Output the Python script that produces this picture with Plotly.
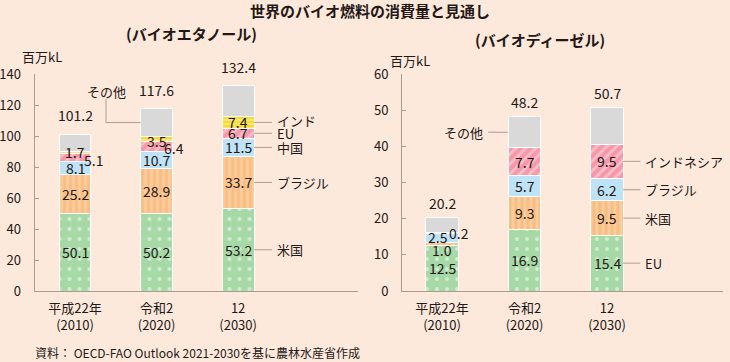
import plotly.graph_objects as go

# ---------------- data ----------------
years = ["平成22年<br>(2010)", "令和2<br>(2020)", "12<br>(2030)"]

eth_names = ["米国", "ブラジル", "中国", "EU", "インド", "その他"]
eth_us = [50.1, 50.2, 53.2]
eth_br = [25.2, 28.9, 33.7]
eth_cn = [8.1, 10.7, 11.5]
eth_eu = [5.1, 6.4, 6.7]
eth_in = [1.7, 3.5, 7.4]
eth_other = [11.0, 17.9, 19.9]
eth_total = [101.2, 117.6, 132.4]

dsl_names = ["EU", "米国", "ブラジル", "インドネシア", "その他"]
dsl_eu = [12.5, 16.9, 15.4]
dsl_us = [1.0, 9.3, 9.5]
dsl_br = [2.5, 5.7, 6.2]
dsl_id = [0.2, 7.7, 9.5]
dsl_other = [4.0, 8.6, 10.1]
dsl_total = [20.2, 48.2, 50.7]

# ---------------- styles ----------------
BG = "#fde9dc"
TXT = "#231815"
AX = "#a99d93"
FONT = "Noto Sans CJK JP"

GREEN = dict(color="#a6d9a6", pattern=dict(shape=".", fgcolor="white", size=10, solidity=0.12, fillmode="overlay"))
ORANGE = dict(color="#f8bd82", pattern=dict(shape="|", fgcolor="#fddcb8", size=6, solidity=0.5, fillmode="overlay"))
BLUE = dict(color="#bfe3f6")
PINK = dict(color="#f598aa", pattern=dict(shape="/", fgcolor="#fde3e8", size=7, solidity=0.4, fillmode="overlay"))
YELLOW = dict(color="#f5db3a", pattern=dict(shape="-", fgcolor="#fdf4b0", size=4, solidity=0.5, fillmode="overlay"))
GRAY = dict(color="#d9d9d9")

BW = 0.39
xs = [0, 1, 2]

eth_series = [eth_us, eth_br, eth_cn, eth_eu, eth_in, eth_other]
eth_styles = [GREEN, ORANGE, BLUE, PINK, YELLOW, GRAY]
dsl_series = [dsl_eu, dsl_us, dsl_br, dsl_id, dsl_other]
dsl_styles = [GREEN, ORANGE, BLUE, PINK, GRAY]

fig = go.Figure()

def add_stack(series, names, styles, xa, ya):
    for vals, nm, st in zip(series, names, styles):
        m = dict(st)
        m["line"] = dict(color="white", width=1)
        fig.add_trace(go.Bar(x=xs, y=vals, name=nm, marker=m, width=BW,
                             xaxis=xa, yaxis=ya, showlegend=False, hoverinfo="skip"))

add_stack(eth_series, eth_names, eth_styles, "x", "y")
add_stack(dsl_series, dsl_names, dsl_styles, "x2", "y2")

ann = []
shapes = []

def seg_mids(series):
    mids = []
    cum = [0, 0, 0]
    for vals in series:
        row = []
        for i, v in enumerate(vals):
            row.append(cum[i] + v / 2)
            cum[i] += v
        mids.append(row)
    return mids

# value labels inside bars (skip "other")
eth_off = {(3, 0): (18, -2), (4, 0): (0, 1), (3, 1): (17, -1), (4, 1): (0, -2)}
dsl_off = {(1, 0): (0, -6), (2, 0): (-4, 1), (3, 0): (17, 0)}

def value_labels(series, xa, ya, offs):
    mids = seg_mids(series)
    for s in range(len(series) - 1):
        for i in xs:
            dx, dy = offs.get((s, i), (0, 0))
            ann.append(dict(x=i, y=mids[s][i], xref=xa, yref=ya, text=f"{series[s][i]:.1f}",
                            showarrow=False, xshift=dx, yshift=dy,
                            font=dict(size=14, color=TXT, family=FONT)))
    return mids

eth_mids = value_labels(eth_series, "x", "y", eth_off)
dsl_mids = value_labels(dsl_series, "x2", "y2", dsl_off)

# totals
for i in xs:
    ann.append(dict(x=i, y=eth_total[i], xref="x", yref="y", text=f"{eth_total[i]:.1f}",
                    showarrow=False, yshift=19, font=dict(size=14, color=TXT, family=FONT)))
    ann.append(dict(x=i, y=dsl_total[i], xref="x2", yref="y2", text=f"{dsl_total[i]:.1f}",
                    showarrow=False, yshift=15, font=dict(size=14, color=TXT, family=FONT)))

# side labels for the last bar
def side_labels(mids, names, xa, ya, n, length, yshifts):
    x0 = 2 + BW / 2
    x1 = x0 + length
    for s in range(n):
        y = mids[s][2]
        shapes.append(dict(type="line", xref=xa, yref=ya, x0=x0, x1=x1, y0=y, y1=y,
                           line=dict(color=AX, width=1)))
        ann.append(dict(x=x1, y=y, xref=xa, yref=ya, text=names[s], showarrow=False,
                        xanchor="left", xshift=3, yshift=yshifts.get(s, 0),
                        font=dict(size=13, color=TXT, family=FONT)))

side_labels(eth_mids, eth_names, "x", "y", 5, 0.22, {4: 2})
side_labels(dsl_mids, dsl_names, "x2", "y2", 4, 0.21, {})

# "その他" leaders
ly = eth_mids[5][1]
shapes.append(dict(type="line", xref="x", yref="y", x0=0.38, x1=0.38, y0=ly, y1=124,
                   line=dict(color=AX, width=1)))
shapes.append(dict(type="line", xref="x", yref="y", x0=0.38, x1=1 - BW / 2, y0=ly, y1=ly,
                   line=dict(color=AX, width=1)))
ann.append(dict(x=0.38, y=129, xref="x", yref="y", text="その他", showarrow=False,
                font=dict(size=13, color=TXT, family=FONT)))

ry = dsl_mids[4][1]
rx0 = 1 - BW / 2 - 0.245
shapes.append(dict(type="line", xref="x2", yref="y2", x0=rx0, x1=1 - BW / 2, y0=ry, y1=ry,
                   line=dict(color=AX, width=1)))
ann.append(dict(x=rx0, y=ry, xref="x2", yref="y2", text="その他", showarrow=False,
                xanchor="right", xshift=-3, font=dict(size=13, color=TXT, family=FONT)))

# titles and texts
def ptxt(text, x, ypx, size, anchor="center", bold=False):
    ann.append(dict(x=x / 730, y=1 - ypx / 362, xref="paper", yref="paper",
                    text=f"<b>{text}</b>" if bold else text, showarrow=False,
                    xanchor=anchor, yanchor="middle",
                    font=dict(size=size, color=TXT, family=FONT)))

ptxt("世界のバイオ燃料の消費量と見通し", 370, 10, 15, bold=True)
ptxt("(バイオエタノール)", 192, 33, 15, bold=True)
ptxt("(バイオディーゼル)", 540, 39, 15, bold=True)
ptxt("百万kL", 20, 57, 13, anchor="left")
ptxt("百万kL", 388, 60, 13, anchor="left")
ptxt("資料： OECD-FAO Outlook 2021-2030を基に農林水産省作成", 33, 352, 12, anchor="left")

ydom = [71 / 362, 288 / 362]
xcommon = dict(tickvals=xs, ticktext=years, showline=True, linecolor=AX, linewidth=1,
               showgrid=False, zeroline=False, ticks="", fixedrange=True, automargin=False,
               ticklabelstandoff=5,
               tickfont=dict(size=13, color=TXT, family=FONT))
ycommon = dict(showline=True, linecolor=AX, linewidth=1, showgrid=False, zeroline=False,
               ticks="inside", ticklen=4, tickcolor=AX, ticklabelstandoff=10, automargin=False,
               tickfont=dict(size=13, color=TXT, family=FONT))

fig.update_layout(
    width=730, height=362, margin=dict(l=0, r=0, t=0, b=0, autoexpand=False),
    paper_bgcolor=BG, plot_bgcolor=BG, barmode="stack",
    xaxis=dict(domain=[34.5 / 730, 358 / 730], range=[-0.497, 3.47], anchor="y", **xcommon),
    yaxis=dict(domain=ydom, range=[0, 140], dtick=20, anchor="x", **ycommon),
    xaxis2=dict(domain=[402 / 730, 723 / 730], range=[-0.485, 3.406], anchor="y2", **xcommon),
    yaxis2=dict(domain=ydom, range=[0, 60], dtick=10, anchor="x2", **ycommon),
    annotations=ann, shapes=shapes,
    font=dict(family=FONT, color=TXT),
)

fig.write_html("out.html", config={"displayModeBar": False},
               post_script="document.body.style.margin='0';document.body.style.overflow='hidden';")
